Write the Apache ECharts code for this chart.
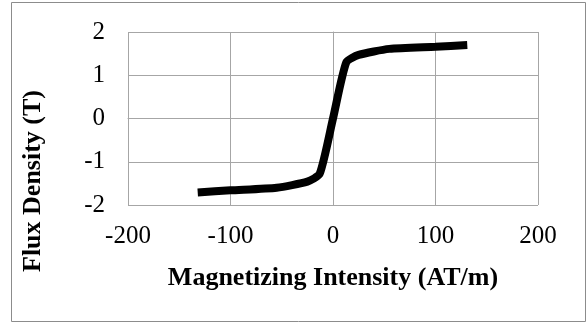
<!DOCTYPE html>
<html>
<head>
<meta charset="utf-8">
<script src="https://cdn.jsdelivr.net/npm/echarts@6/dist/echarts.min.js"></script>
<style>
  html, body { margin: 0; padding: 0; background: #fff; }
  #chart { width: 586px; height: 324px; }
</style>
</head>
<body>
<div id="chart"></div>
<script>
var myChart = echarts.init(document.getElementById("chart"));

// magnetizing intensity H (AT/m) and flux density B (T)
var intensity = [-132, -100, -55, -25, -13, 0, 13, 25, 55, 100, 131];
var density = [-1.71, -1.66, -1.60, -1.46, -1.28, 0, 1.30, 1.47, 1.61, 1.66, 1.70];

var xTicks = [-200, -100, 0, 100, 200];
var yTicks = [-2, -1, 0, 1, 2];

var points = intensity.map(function (h, i) { return [h, density[i]]; });

var gridColor = '#a6a6a6';
var serif = '"Liberation Serif", "Times New Roman", serif';

var option = {
	backgroundColor: '#fff',
	animation: false,
	grid: {
		left: 128,
		right: 48,
		top: 32,
		bottom: 119
	},
	graphic: [{
			type: 'rect',
			shape: { x: 11.5, y: 2.5, width: 574, height: 319 },
			style: { fill: 'none', stroke: '#8c8c8c', lineWidth: 1 },
			silent: true
		},
		{
			// y axis title sits lower than the plot centre, as in the original
			type: 'text',
			x: 33,
			y: 181,
			rotation: Math.PI / 2,
			style: {
				text: 'Flux Density (T)',
				font: 'bold 26px ' + serif,
				fill: '#000',
				align: 'center',
				verticalAlign: 'middle'
			}
		}
	],
	xAxis: {
		type: 'value',
		min: xTicks[0],
		max: xTicks[xTicks.length - 1],
		interval: 100,
		name: 'Magnetizing Intensity (AT/m)',
		nameLocation: 'middle',
		nameGap: 60,
		nameTextStyle: {
			fontFamily: serif,
			fontWeight: 'bold',
			fontSize: 26,
			color: '#000'
		},
		axisLine: { show: true, lineStyle: { color: gridColor, width: 1 } },
		axisTick: { show: false },
		axisLabel: {
			margin: 19,
			fontFamily: serif,
			fontSize: 25,
			color: '#000'
		},
		splitLine: { show: true, lineStyle: { color: gridColor, width: 1 } }
	},
	yAxis: {
		type: 'value',
		min: yTicks[0],
		max: yTicks[yTicks.length - 1],
		interval: 1,
		axisLine: { show: true, lineStyle: { color: gridColor, width: 1 } },
		axisTick: { show: false },
		axisLabel: {
			margin: 23,
			fontFamily: serif,
			fontSize: 25,
			color: '#000'
		},
		splitLine: { show: true, lineStyle: { color: gridColor, width: 1 } }
	},
	series: [{
		type: 'line',
		data: points,
		smooth: 0.2,
		symbol: 'none',
		lineStyle: { color: '#000', width: 8 },
		itemStyle: { color: '#000' }
	}]
};

myChart.setOption(option);
</script>
</body>
</html>
